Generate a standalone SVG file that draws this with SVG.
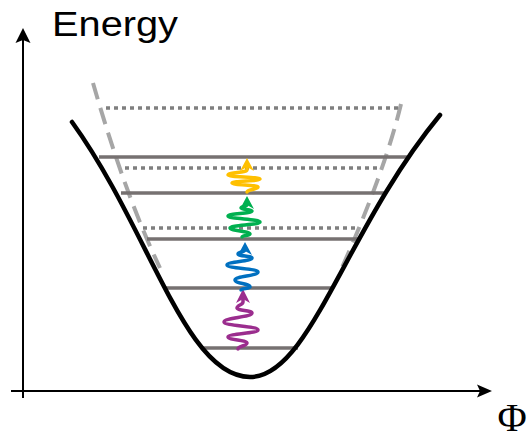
<svg xmlns="http://www.w3.org/2000/svg" width="527" height="439" viewBox="0 0 527 439">
<style>
.axis{stroke:#000;stroke-width:2;fill:none}
.ah{fill:#000}
.lvl{stroke:#767171;stroke-width:3.5;fill:none}
.dot{stroke:#7f7f7f;stroke-width:3.5;stroke-dasharray:4 4;fill:none}
.dash{stroke:#a6a6a6;stroke-width:4;stroke-dasharray:17 9;fill:none}
.well{stroke:#000;stroke-width:4.5;fill:none;stroke-linecap:round}
.wave{stroke-width:3.5;fill:none;stroke-linecap:round;stroke-linejoin:round}
.lbl{font-family:"Liberation Sans","Open Sans",sans-serif;fill:#000}
</style>
<rect width="527" height="439" fill="#fff"/>
<g id="axes">
<line class="axis" x1="23" y1="398" x2="23" y2="38"/>
<polygon class="ah" points="23,28 30.5,43 23,40 15.5,43"/>
<line class="axis" x1="11" y1="391" x2="482" y2="391"/>
<polygon class="ah" points="492,391 477,397.5 480,391 477,384.5"/>
</g>
<g id="label-energy"><text class="lbl" x="52" y="36" font-size="35" textLength="126" lengthAdjust="spacingAndGlyphs">Energy</text></g>
<g id="label-phi"><text x="512" y="431" font-family="'Liberation Serif',serif" font-size="40" text-anchor="middle" fill="#000">Φ</text></g>
<g id="dashed-well">
<path class="dash" d="M93,83 C108,135 130,205 160,268"/>
<path class="dash" d="M401,104 C390,150 368,210 340,272"/>
</g>
<g id="dotted-levels">
<line class="dot" x1="106" y1="108" x2="400" y2="108"/>
<line class="dot" x1="125" y1="168" x2="378" y2="168"/>
<line class="dot" x1="143" y1="228" x2="356" y2="228"/>
</g>
<g id="solid-levels">
<line class="lvl" x1="99" y1="157" x2="407" y2="157"/>
<line class="lvl" x1="121" y1="193" x2="386" y2="193"/>
<line class="lvl" x1="147" y1="239" x2="358" y2="239"/>
<line class="lvl" x1="166" y1="288" x2="331" y2="288"/>
<line class="lvl" x1="202" y1="348" x2="298" y2="348"/>
</g>
<g id="well">
<path class="well" d="M72,122 C150,230 185,377 250,377 C310,377 345,230 440,115"/>
</g>
<g id="connectors">
<g id="photon-purple" stroke="#9b2d8e" fill="#9b2d8e">
<path class="wave" d="M238,349 C238,346 247,346 247,343 C247,340 228,340 228,337 C228,333.5 258,333.5 258,330 C258,326 224,326 224,322 C224,317.5 252,317.5 252,313 C252,310.5 237,310.5 237,308 C237,305 243,305 243,302 L243,298"/>
<polygon stroke="none" points="243,289 250,303 243,299 236,303"/>
</g>
<g id="photon-blue" stroke="#0070c0" fill="#0070c0">
<path class="wave" d="M241,290 C241,288.5 250,288.5 250,287 C250,283.5 235,283.5 235,280 C235,276 258,276 258,272 C258,268.5 227,268.5 227,265 C227,261.5 252,261.5 252,258 C252,256 238,256 238,254 C238,252 245,252 245,250 L245,248"/>
<polygon stroke="none" points="245,242 252,255 245,251 238,255"/>
</g>
<g id="photon-green" stroke="#00b050" fill="#00b050">
<path class="wave" d="M242,237 C242,235.5 250,235.5 250,234 C250,231 230,231 230,228 C230,225 260,225 260,222 C260,219 228,219 228,216 C228,213.5 252,213.5 252,211 C252,209.5 241,209.5 241,208 C241,206.5 247,206.5 247,205 L247,203"/>
<polygon stroke="none" points="247,196 254,209 247,205 240,209"/>
</g>
<g id="photon-yellow" stroke="#ffc000" fill="#ffc000">
<path class="wave" d="M247,192 C247,189.5 258,189.5 258,187 C258,185 232,185 232,183 C232,181 260,181 260,179 C260,177 228,177 228,175 C228,172.5 247,172.5 247,170 L247,167"/>
<polygon stroke="none" points="247,158 254,171 247,167 240,171"/>
</g>
</g>
</svg>
